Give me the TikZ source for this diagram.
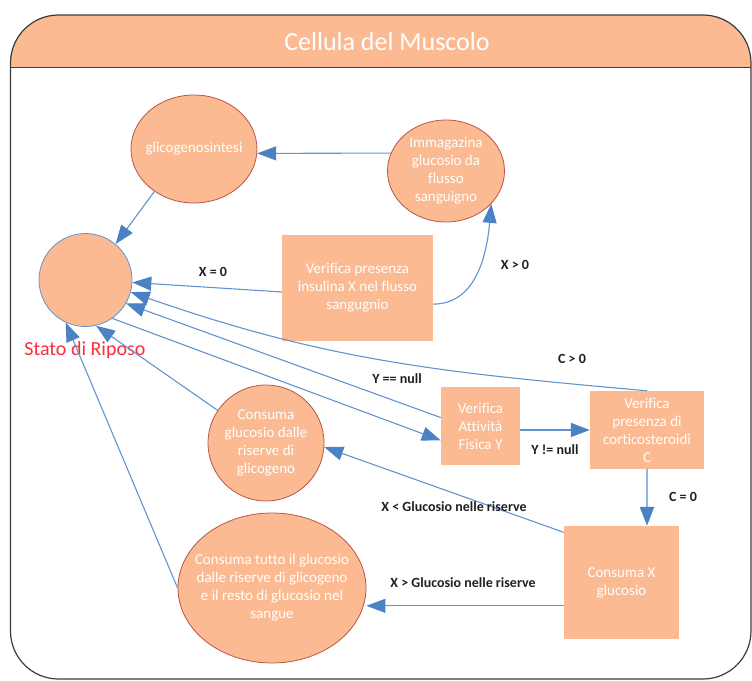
\documentclass[tikz,border=0pt]{standalone}
\usepackage{fontspec}
\setmainfont{Carlito}[Ligatures=NoCommon]
\usetikzlibrary{shapes.geometric,arrows.meta,calc}
\definecolor{fillc}{RGB}{251,186,145}
\definecolor{edgec}{RGB}{185,85,72}
\definecolor{linec}{RGB}{96,148,208}
\definecolor{tipc}{RGB}{74,130,196}
\definecolor{lightc}{RGB}{140,182,228}
\definecolor{redt}{RGB}{250,45,60}
\definecolor{framec}{RGB}{60,60,60}
\begin{document}
\begin{tikzpicture}[x=1pt,y=-1pt,
  shapeell/.style={ellipse, fill=fillc, draw=edgec, line width=0.8pt, inner sep=0pt},
  boxnode/.style={rectangle, fill=fillc, text=white, align=center, inner sep=0pt,
    font=\fontsize{15}{18}\selectfont},
  intext/.style={text=white, align=center, font=\fontsize{15}{18}\selectfont},
  conn/.style={draw=linec, line width=1.1pt, -{Triangle[length=19pt,width=14pt,color=tipc]}},
  lab/.style={font=\bfseries\fontsize{14}{16}\selectfont, text=black!88, inner sep=1pt}]
\useasboundingbox (0,0) rectangle (752,680);

% frame and header
\begin{scope}
  \clip[rounded corners=48pt] (10.5,15) rectangle (751,679);
  \fill[fillc] (10.5,15) rectangle (751,67.5);
\end{scope}
\draw[framec, line width=1.2pt, rounded corners=48pt] (10.5,15) rectangle (751,679);
\draw[framec, line width=1.6pt] (10.5,67.5) -- (751,67.5);
\node[text=white, font=\fontsize{26}{30}\selectfont] (title) at (387,42) {Cellula del Muscolo};

% nodes
\node[shapeell, draw=linec, minimum width=93pt, minimum height=93pt] (stato) at (85.5,280) {};
\node[text=redt, font=\fontsize{20}{23}\selectfont] (statolab) at (85,350) {Stato di Riposo};

\node[shapeell, minimum width=126pt, minimum height=108pt] (glic) at (194,149) {};
\node[intext] (glict) at (glic) {glicogenosintesi};

\node[shapeell, minimum width=117pt, minimum height=102pt] (imm) at (446,171) {};
\node[intext] (immt) at (imm) {Immagazina\\glucosio da\\flusso\\sanguigno};

\node[boxnode, minimum width=151pt, minimum height=106pt] (ins) at (357.5,288)
  {Verifica presenza\\insulina X nel flusso\\sangugnio};

\node[shapeell, minimum width=116pt, minimum height=116pt] (cg) at (266,443) {};
\node[intext] (cgt) at (cg) {Consuma\\glucosio dalle\\riserve di\\glicogeno};

\node[boxnode, minimum width=79pt, minimum height=78pt] (va) at (480.5,426)
  {Verifica\\Attività\\Fisica Y};

\node[boxnode, minimum width=114pt, minimum height=78pt] (cort) at (647,430)
  {Verifica\\presenza di\\corticosteroidi\\C};

\node[boxnode, minimum width=115pt, minimum height=113pt] (cx) at (621.5,582.5)
  {Consuma X\\glucosio};

\node[shapeell, minimum width=188pt, minimum height=150pt] (ct) at (272,588) {};
\node[intext] (ctt) at (ct) {Consuma tutto il glucosio\\dalle riserve di glicogeno\\e il resto di glucosio nel\\sangue};

% connectors
\draw[conn] (imm.162) -- (glic.-4);
\draw[conn] (glic.-133) -- (stato.50);
\draw[conn] (ins.-177) -- (stato.-3);
\draw[conn] (ins.-12) to[out=0, in=-95] (imm.-36);
\draw[conn] (cort.north) .. controls +(-200,-18) and +(200,70) .. (stato.-15);
\draw[conn] (va.168) -- (stato.-30);
\draw[conn] (stato.-55) -- (va.-160);
\draw[conn, line width=1.5pt] (va.east |- cort.west) -- (cort.west);
\draw[conn, draw=lightc, line width=2.6pt] (cort.south) -- (cort.south |- cx.north);
\draw[conn] (cx.139) -- (cg.-4);
\draw[conn] (cx.-158) -- (cx.-158 -| ct.east);
\draw[conn] (ct.west) -- (stato.-115);
\draw[conn] (cg.146) -- (stato.-77);

% labels
\node[lab] (l1) at (213,272) {X = 0};
\node[lab] (l2) at (515,265) {X > 0};
\node[lab] (l3) at (572,359) {C > 0};
\node[lab] (l4) at (397,379) {Y == null};
\node[lab] (l5) at (555,450) {Y != null};
\node[lab] (l6) at (683,497) {C = 0};
\node[lab] (l7) at (454,507) {X < Glucosio nelle riserve};
\node[lab] (l8) at (463,583) {X > Glucosio nelle riserve};
\end{tikzpicture}
\end{document}
